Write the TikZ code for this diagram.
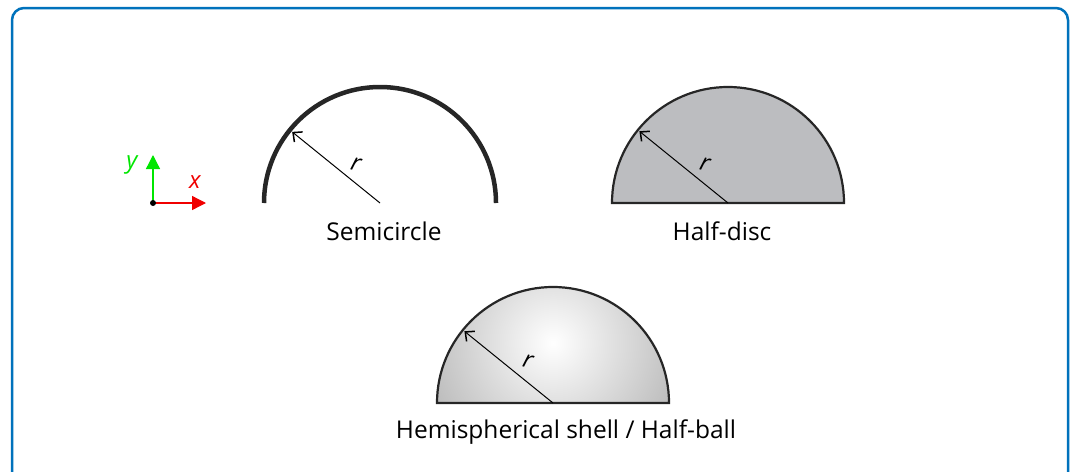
\documentclass[tikz,border=0pt]{standalone}
\usepackage{fontspec}
\setmainfont{Open Sans}
\usetikzlibrary{calc,arrows.meta,positioning}
\definecolor{framblue}{RGB}{0,114,188}
\definecolor{discgray}{RGB}{188,189,192}
\definecolor{axgreen}{RGB}{0,230,0}
\definecolor{axred}{RGB}{240,0,0}
\tikzset{
  radius line/.style={line width=1pt,-{Straight Barb[length=7pt,width=13pt,line width=1.5pt]}},
  shape label/.style={font=\fontsize{24.5pt}{28pt}\selectfont},
  r label/.style={font=\fontsize{24pt}{28pt}\selectfont\itshape},
}
\begin{document}
\begin{tikzpicture}[x=1pt,y=-1pt,>=Stealth]
\useasboundingbox (0,0) rectangle (1075,471);
\draw[framblue,line width=2.5pt,rounded corners=12pt] (12,8) rectangle (1068,500);
% axes
\coordinate (o) at (153,203);
\coordinate (ytip) at (153,155);
\coordinate (xtip) at (206,203);
\draw[axgreen,line width=1.3pt,-{Triangle[length=14pt,width=14pt]}] (o) -- (ytip);
\draw[axred,line width=1.3pt,-{Triangle[length=14pt,width=14pt]}] (o) -- (xtip);
\fill (o) circle (3);
\node[axgreen,r label] (ylab) at (132,165) {y};
\node[axred,r label] (xlab) at (195,182) {x};
% semicircle
\coordinate (c1) at (380,203);
\draw[line width=4.5pt,line cap=butt,black!85] ($(c1)+(-116,0)$) arc[start angle=180,end angle=360,radius=116];
\coordinate (a1) at ($(c1)+(-141:113)$);
\draw[radius line] (c1) -- (a1);
\node[r label,rotate=-15] (r1) at (356,164) {r};
\node[shape label] (semi) at (384,231) {Semicircle};
% half-disc
\coordinate (c2) at (728,203);
\draw[line width=2.2pt,black!85,fill=discgray] ($(c2)+(-116,0)$) arc[start angle=180,end angle=360,radius=116] -- cycle;
\coordinate (a2) at ($(c2)+(-141:114)$);
\draw[radius line] (c2) -- (a2);
\node[r label,rotate=-15] (r2) at (705,164) {r};
\node[shape label] (disc) at (722,231) {Half-disc};
% hemisphere
\coordinate (c3) at (553,403);
\begin{scope}
\clip ($(c3)+(-116,0)$) arc[start angle=180,end angle=360,radius=116] -- cycle;
\shade[inner color=white,outer color=black!30] (553,343) circle (150);
\end{scope}
\draw[line width=2.2pt,black!85] ($(c3)+(-116,0)$) arc[start angle=180,end angle=360,radius=116] -- cycle;
\coordinate (a3) at ($(c3)+(-141:114)$);
\draw[radius line] (c3) -- (a3);
\node[r label,rotate=-15] (r3) at (528,361) {r};
\node[shape label] (ball) at (566,432) {Hemispherical shell / Half-ball};
\end{tikzpicture}
\end{document}
